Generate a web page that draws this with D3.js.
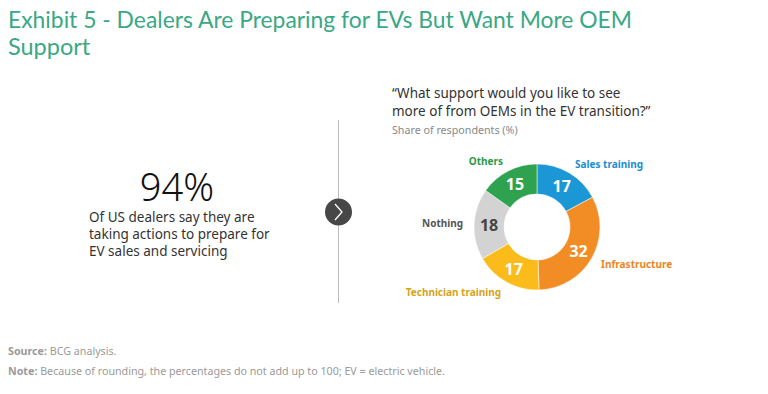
<!DOCTYPE html>
<html><head><meta charset="utf-8">
<script src="https://cdn.jsdelivr.net/npm/d3@7"></script>
<style>
html,body{margin:0;padding:0;background:#fff;}
svg{display:block;font-family:"Noto Sans",sans-serif;}
</style></head>
<body>
<svg id="chart" width="768" height="394"></svg>
<script>
const categories = ["Sales training", "Infrastructure", "Technician training", "Nothing", "Others"];
const values = [17, 32, 17, 18, 15];
const colors = ["#1b97d5", "#f28c24", "#fbbc1b", "#d3d3d3", "#2ea24f"];
const labelColors = ["#1a8fcf", "#e9861f", "#d9a21a", "#555555", "#2a9a4a"];
const valueColors = ["#fff", "#fff", "#fff", "#444", "#fff"];
const titleLines = ["Exhibit 5 - Dealers Are Preparing for EVs But Want More OEM", "Support"];
const bigStat = "94%";
const statLines = ["Of US dealers say they are", "taking actions to prepare for", "EV sales and servicing"];
const questionLines = ["\u201cWhat support would you like to see", "more of from OEMs in the EV transition?\u201d"];
const subtitle = "Share of respondents (%)";

const svg = d3.select("#chart");

// title (two separate lines)
svg.selectAll("text.title").data(titleLines).join("text").attr("class", "title")
  .attr("x", 8).attr("y", (d, i) => 28 + i * 27)
  .attr("fill", "#3aa884").attr("font-family", "Lato, sans-serif")
  .attr("font-size", 23.5).attr("textLength", (d, i) => i ? null : 624)
  .attr("lengthAdjust", "spacingAndGlyphs")
  .text(d => d);

// left stat
svg.append("text").attr("x", 177).attr("y", 201).attr("text-anchor", "middle")
  .attr("font-size", 38).attr("font-weight", 300).attr("fill", "#111").text(bigStat);
svg.append("text").attr("x", 89).attr("y", 222).attr("fill", "#333").attr("font-size", 13.5)
  .selectAll("tspan").data(statLines).join("tspan")
  .attr("x", 89).attr("dy", (d, i) => i ? 17 : 0).text(d => d);

// divider and button
svg.append("line").attr("x1", 338.5).attr("x2", 338.5).attr("y1", 120).attr("y2", 303)
  .attr("stroke", "#bbb").attr("stroke-width", 1);
svg.append("circle").attr("cx", 338.5).attr("cy", 212).attr("r", 13.5).attr("fill", "#474747");
svg.append("path").attr("d", "M335,204 L342,212 L335,220").attr("fill", "none")
  .attr("stroke", "#fff").attr("stroke-width", 1.3);

// question
svg.append("text").attr("x", 392).attr("y", 98).attr("fill", "#333").attr("font-size", 13.5)
  .selectAll("tspan").data(questionLines).join("tspan")
  .attr("x", 392).attr("dy", (d, i) => i ? 18 : 0).text(d => d);
svg.append("text").attr("x", 392).attr("y", 134).attr("fill", "#888").attr("font-size", 10.7)
  .text(subtitle);

// donut
const cx = 537, cy = 227, rOuter = 63, rInner = 33, rLabel = 74;
const data = categories.map((c, i) => ({cat: c, value: values[i], i}));
const pie = d3.pie().value(d => d.value).sort(null);
const arcs = pie(data);
const arc = d3.arc().innerRadius(rInner).outerRadius(rOuter);
const g = svg.append("g").attr("transform", `translate(${cx},${cy})`);
g.selectAll("path.slice").data(arcs).join("path").attr("class", "slice")
  .attr("d", arc).attr("fill", d => colors[d.data.i]).attr("stroke", "#fff").attr("stroke-width", 0.5);

g.selectAll("text.val").data(arcs).join("text").attr("class", "val")
  .attr("transform", d => `translate(${arc.centroid(d)})`)
  .attr("text-anchor", "middle").attr("dominant-baseline", "central")
  .attr("font-size", 16).attr("font-weight", 700)
  .attr("fill", d => valueColors[d.data.i]).text(d => d.data.value);

const labelArc = d3.arc().innerRadius(rLabel).outerRadius(rLabel);
g.selectAll("text.lab").data(arcs).join("text").attr("class", "lab")
  .attr("transform", d => `translate(${labelArc.centroid(d)})`)
  .attr("text-anchor", d => {
    const a = (d.startAngle + d.endAngle) / 2;
    const s = Math.sin(a);
    return s > 0.2 ? "start" : (s < -0.2 ? "end" : "middle");
  })
  .attr("dominant-baseline", "central")
  .attr("font-size", 10).attr("font-weight", 700)
  .attr("fill", d => labelColors[d.data.i]).text(d => d.data.cat);

// footnotes
const foot = svg.append("g").attr("font-size", 10.7).attr("fill", "#9a9a9a");
const t1 = foot.append("text").attr("x", 8).attr("y", 355);
t1.append("tspan").attr("font-weight", 700).text("Source: ");
t1.append("tspan").text("BCG analysis.");
const t2 = foot.append("text").attr("x", 8).attr("y", 375);
t2.append("tspan").attr("font-weight", 700).text("Note: ");
t2.append("tspan").text("Because of rounding, the percentages do not add up to 100; EV = electric vehicle.");
</script>
</body></html>
